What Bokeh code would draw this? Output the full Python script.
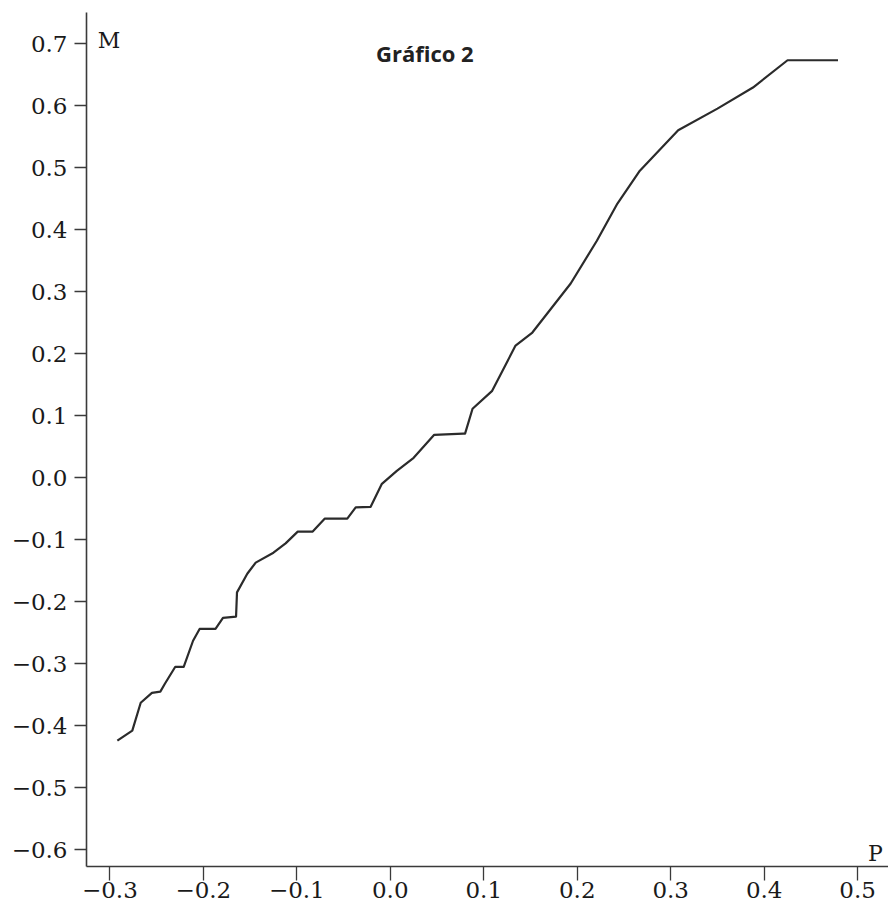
from bokeh.plotting import figure
from bokeh.models import Range1d, FixedTicker, Label
from bokeh.embed import file_html
from bokeh.resources import INLINE

# Data
P = [-0.292, -0.276, -0.267, -0.255, -0.246, -0.241, -0.230, -0.221, -0.211, -0.204,
     -0.187, -0.179, -0.165, -0.164, -0.153, -0.144, -0.125, -0.112, -0.099, -0.083,
     -0.070, -0.046, -0.037, -0.021, -0.009, 0.007, 0.025, 0.047, 0.078, 0.080,
     0.088, 0.109, 0.134, 0.152, 0.193, 0.221, 0.243, 0.267, 0.308, 0.350,
     0.388, 0.425, 0.479]
M = [-0.424, -0.408, -0.363, -0.347, -0.345, -0.332, -0.305, -0.305, -0.263, -0.244,
     -0.244, -0.226, -0.224, -0.185, -0.155, -0.137, -0.121, -0.106, -0.087, -0.087,
     -0.066, -0.066, -0.048, -0.047, -0.010, 0.011, 0.032, 0.069, 0.071, 0.071,
     0.111, 0.140, 0.213, 0.234, 0.313, 0.382, 0.442, 0.495, 0.560, 0.595,
     0.629, 0.673, 0.673]

x_ticks = [-0.3, -0.2, -0.1, 0.0, 0.1, 0.2, 0.3, 0.4, 0.5]
y_ticks = [0.7, 0.6, 0.5, 0.4, 0.3, 0.2, 0.1, 0.0, -0.1, -0.2, -0.3, -0.4, -0.5, -0.6]

title_text = "Gráfico 2"
x_name = "P"
y_name = "M"


def fmt(t):
    s = f"{t:.1f}"
    if s == "-0.0":
        s = "0.0"
    return s.replace("-", "\u2212")


p = figure(width=888, height=911, output_backend="svg", toolbar_location=None,
           x_range=Range1d(-0.325, 0.533), y_range=Range1d(-0.627, 0.75),
           min_border_left=86, min_border_right=0, min_border_top=12, min_border_bottom=45)
p.outline_line_color = None
p.xgrid.visible = False
p.ygrid.visible = False
p.background_fill_color = "white"
p.border_fill_color = "white"

for ax, ticks in ((p.xaxis[0], x_ticks), (p.yaxis[0], y_ticks)):
    ax.ticker = FixedTicker(ticks=ticks)
    ax.major_label_overrides = {t: fmt(t) for t in ticks}
    ax.minor_tick_line_color = None
    ax.axis_line_color = "#3a3a3a"
    ax.axis_line_width = 1.6
    ax.major_tick_line_color = "#3a3a3a"
    ax.major_tick_line_width = 1.3
    ax.major_tick_in = 0
    ax.major_label_text_font = "DejaVu Serif"
    ax.major_label_text_font_size = "23px"
    ax.major_label_text_color = "#1a1a1a"

p.xaxis[0].major_tick_out = 14
p.xaxis[0].major_label_standoff = 1
p.yaxis[0].major_tick_out = 12
p.yaxis[0].major_label_standoff = 7

p.line(P, M, line_color="#2b2b2b", line_width=2.2, line_join="round")

p.add_layout(Label(x=0.037, y=0.684, text=title_text, text_align="center",
                   text_baseline="middle", text_font="Open Sans", text_font_style="bold",
                   text_font_size="22px", text_color="#222222"))
p.add_layout(Label(x=-0.313, y=0.705, text=y_name, text_align="left",
                   text_baseline="alphabetic", text_font="DejaVu Serif",
                   text_font_size="22px", text_color="#1a1a1a"))
p.add_layout(Label(x=0.511, y=-0.606, text=x_name, text_align="left",
                   text_baseline="alphabetic", text_font="DejaVu Serif",
                   text_font_size="22px", text_color="#1a1a1a"))

open("out.html", "w").write(file_html(p, INLINE))
